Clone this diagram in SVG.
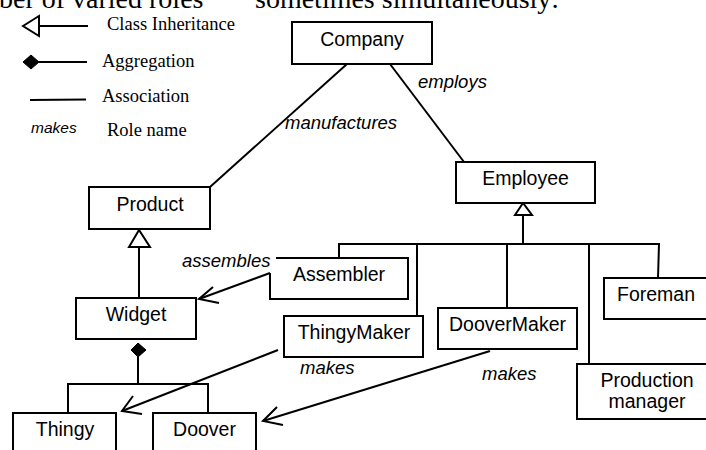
<svg xmlns="http://www.w3.org/2000/svg" width="706" height="450" viewBox="0 0 706 450">
<defs>
<style>
.box{fill:#fff;stroke:#000;stroke-width:2}
.ln{fill:none;stroke:#000;stroke-width:2}
.tri{fill:#fff;stroke:#000;stroke-width:2}
.dia{fill:#000;stroke:#000;stroke-width:1}
.nt{font-family:"Liberation Sans",Arial,sans-serif;font-size:19.5px;fill:#000;text-anchor:middle}
.role{font-family:"Liberation Sans",Arial,sans-serif;font-size:18.5px;font-style:italic;fill:#000}
.leg{font-family:"Liberation Serif","Times New Roman",serif;font-size:18.5px;fill:#000}
.top{font-family:"Liberation Serif","Times New Roman",serif;font-size:28px;fill:#000}
</style>
</defs>
<rect width="706" height="450" fill="#fff"/>
<text class="top" x="-1" y="7.5">ber of varied roles</text>
<text class="top" x="255" y="7.5">sometimes simultaneously:</text>
<g id="legend">
<polygon class="tri" points="23,26 39,16 39,36"/>
<line class="ln" x1="39" y1="26" x2="88" y2="26"/>
<text class="leg" x="107" y="30">Class Inheritance</text>
<polygon class="dia" points="23,62 31,55 39,62 31,69"/>
<line class="ln" x1="39" y1="62" x2="87" y2="62"/>
<text class="leg" x="102" y="67">Aggregation</text>
<line class="ln" x1="30" y1="100" x2="86" y2="99.5"/>
<text class="leg" x="102" y="102">Association</text>
<text x="31" y="133" style="font-family:'Liberation Sans',Arial,sans-serif;font-size:15.5px;font-style:italic">makes</text>
<text class="leg" x="107" y="136">Role name</text>
</g>
<g id="connectors">
<line class="ln" x1="347" y1="64" x2="210" y2="187"/>
<line class="ln" x1="390" y1="64" x2="464" y2="162"/>
<polygon class="tri" points="139,230 129,247 150,247"/>
<line class="ln" x1="139" y1="247" x2="139" y2="298"/>
<polygon class="tri" points="523,203 515,215 532,215"/>
<line class="ln" x1="523" y1="215" x2="523" y2="244"/>
<polyline class="ln" points="339,258 339,244 659,244 658,278"/>
<line class="ln" x1="417" y1="244" x2="417" y2="316"/>
<line class="ln" x1="507" y1="244" x2="507" y2="308"/>
<line class="ln" x1="589" y1="244" x2="589" y2="364"/>
<polygon class="dia" points="138,343 146,350 138,357 131,350"/>
<line class="ln" x1="138" y1="357" x2="138" y2="384"/>
<polyline class="ln" points="68,413 68,384 208,384 208,413"/>
<line class="ln" x1="270" y1="273" x2="199" y2="299"/>
<polyline class="ln" points="213,287 199,299 219,303"/>
<line class="ln" x1="278" y1="350" x2="122" y2="411"/>
<polyline class="ln" points="133,396 122,411 142,414"/>
<line class="ln" x1="490" y1="351" x2="263" y2="421"/>
<polyline class="ln" points="277,407 263,421 283,425"/>
</g>
<g id="company"><rect class="box" x="292" y="22" width="140" height="42"/><text class="nt" x="362" y="46">Company</text></g>
<g id="product"><rect class="box" x="89" y="187" width="121" height="42"/><text class="nt" x="150" y="211">Product</text></g>
<g id="employee"><rect class="box" x="456" y="162" width="139" height="41"/><text class="nt" x="525.5" y="185">Employee</text></g>
<g id="widget"><rect class="box" x="76" y="298" width="120" height="41"/><text class="nt" x="136" y="321">Widget</text></g>
<g id="assembler"><path class="box" d="M276,258 H408 V299 H270 V273"/><text class="nt" x="339" y="281">Assembler</text></g>
<g id="thingymaker"><rect class="box" x="284" y="316" width="139" height="41"/><text class="nt" x="354" y="339">ThingyMaker</text></g>
<g id="doovermaker"><rect class="box" x="438" y="308" width="139" height="41"/><text class="nt" x="507.5" y="331">DooverMaker</text></g>
<g id="foreman"><rect class="box" x="604" y="278" width="110" height="41"/><text class="nt" x="617" y="301" style="text-anchor:start">Foreman</text></g>
<g id="productionmanager"><rect class="box" x="577" y="364" width="140" height="55"/><text class="nt" x="647" y="387">Production</text><text class="nt" x="647" y="408">manager</text></g>
<g id="thingy"><rect class="box" x="13" y="413" width="103" height="50"/><text class="nt" x="65" y="436">Thingy</text></g>
<g id="doover"><rect class="box" x="153" y="413" width="103" height="50"/><text class="nt" x="204.5" y="436">Doover</text></g>
<g id="labels">
<text class="role" x="418" y="88">employs</text>
<text class="role" x="285" y="129">manufactures</text>
<text class="role" x="182" y="267">assembles</text>
<text class="role" x="300" y="374">makes</text>
<text class="role" x="482" y="380">makes</text>
</g>
</svg>
